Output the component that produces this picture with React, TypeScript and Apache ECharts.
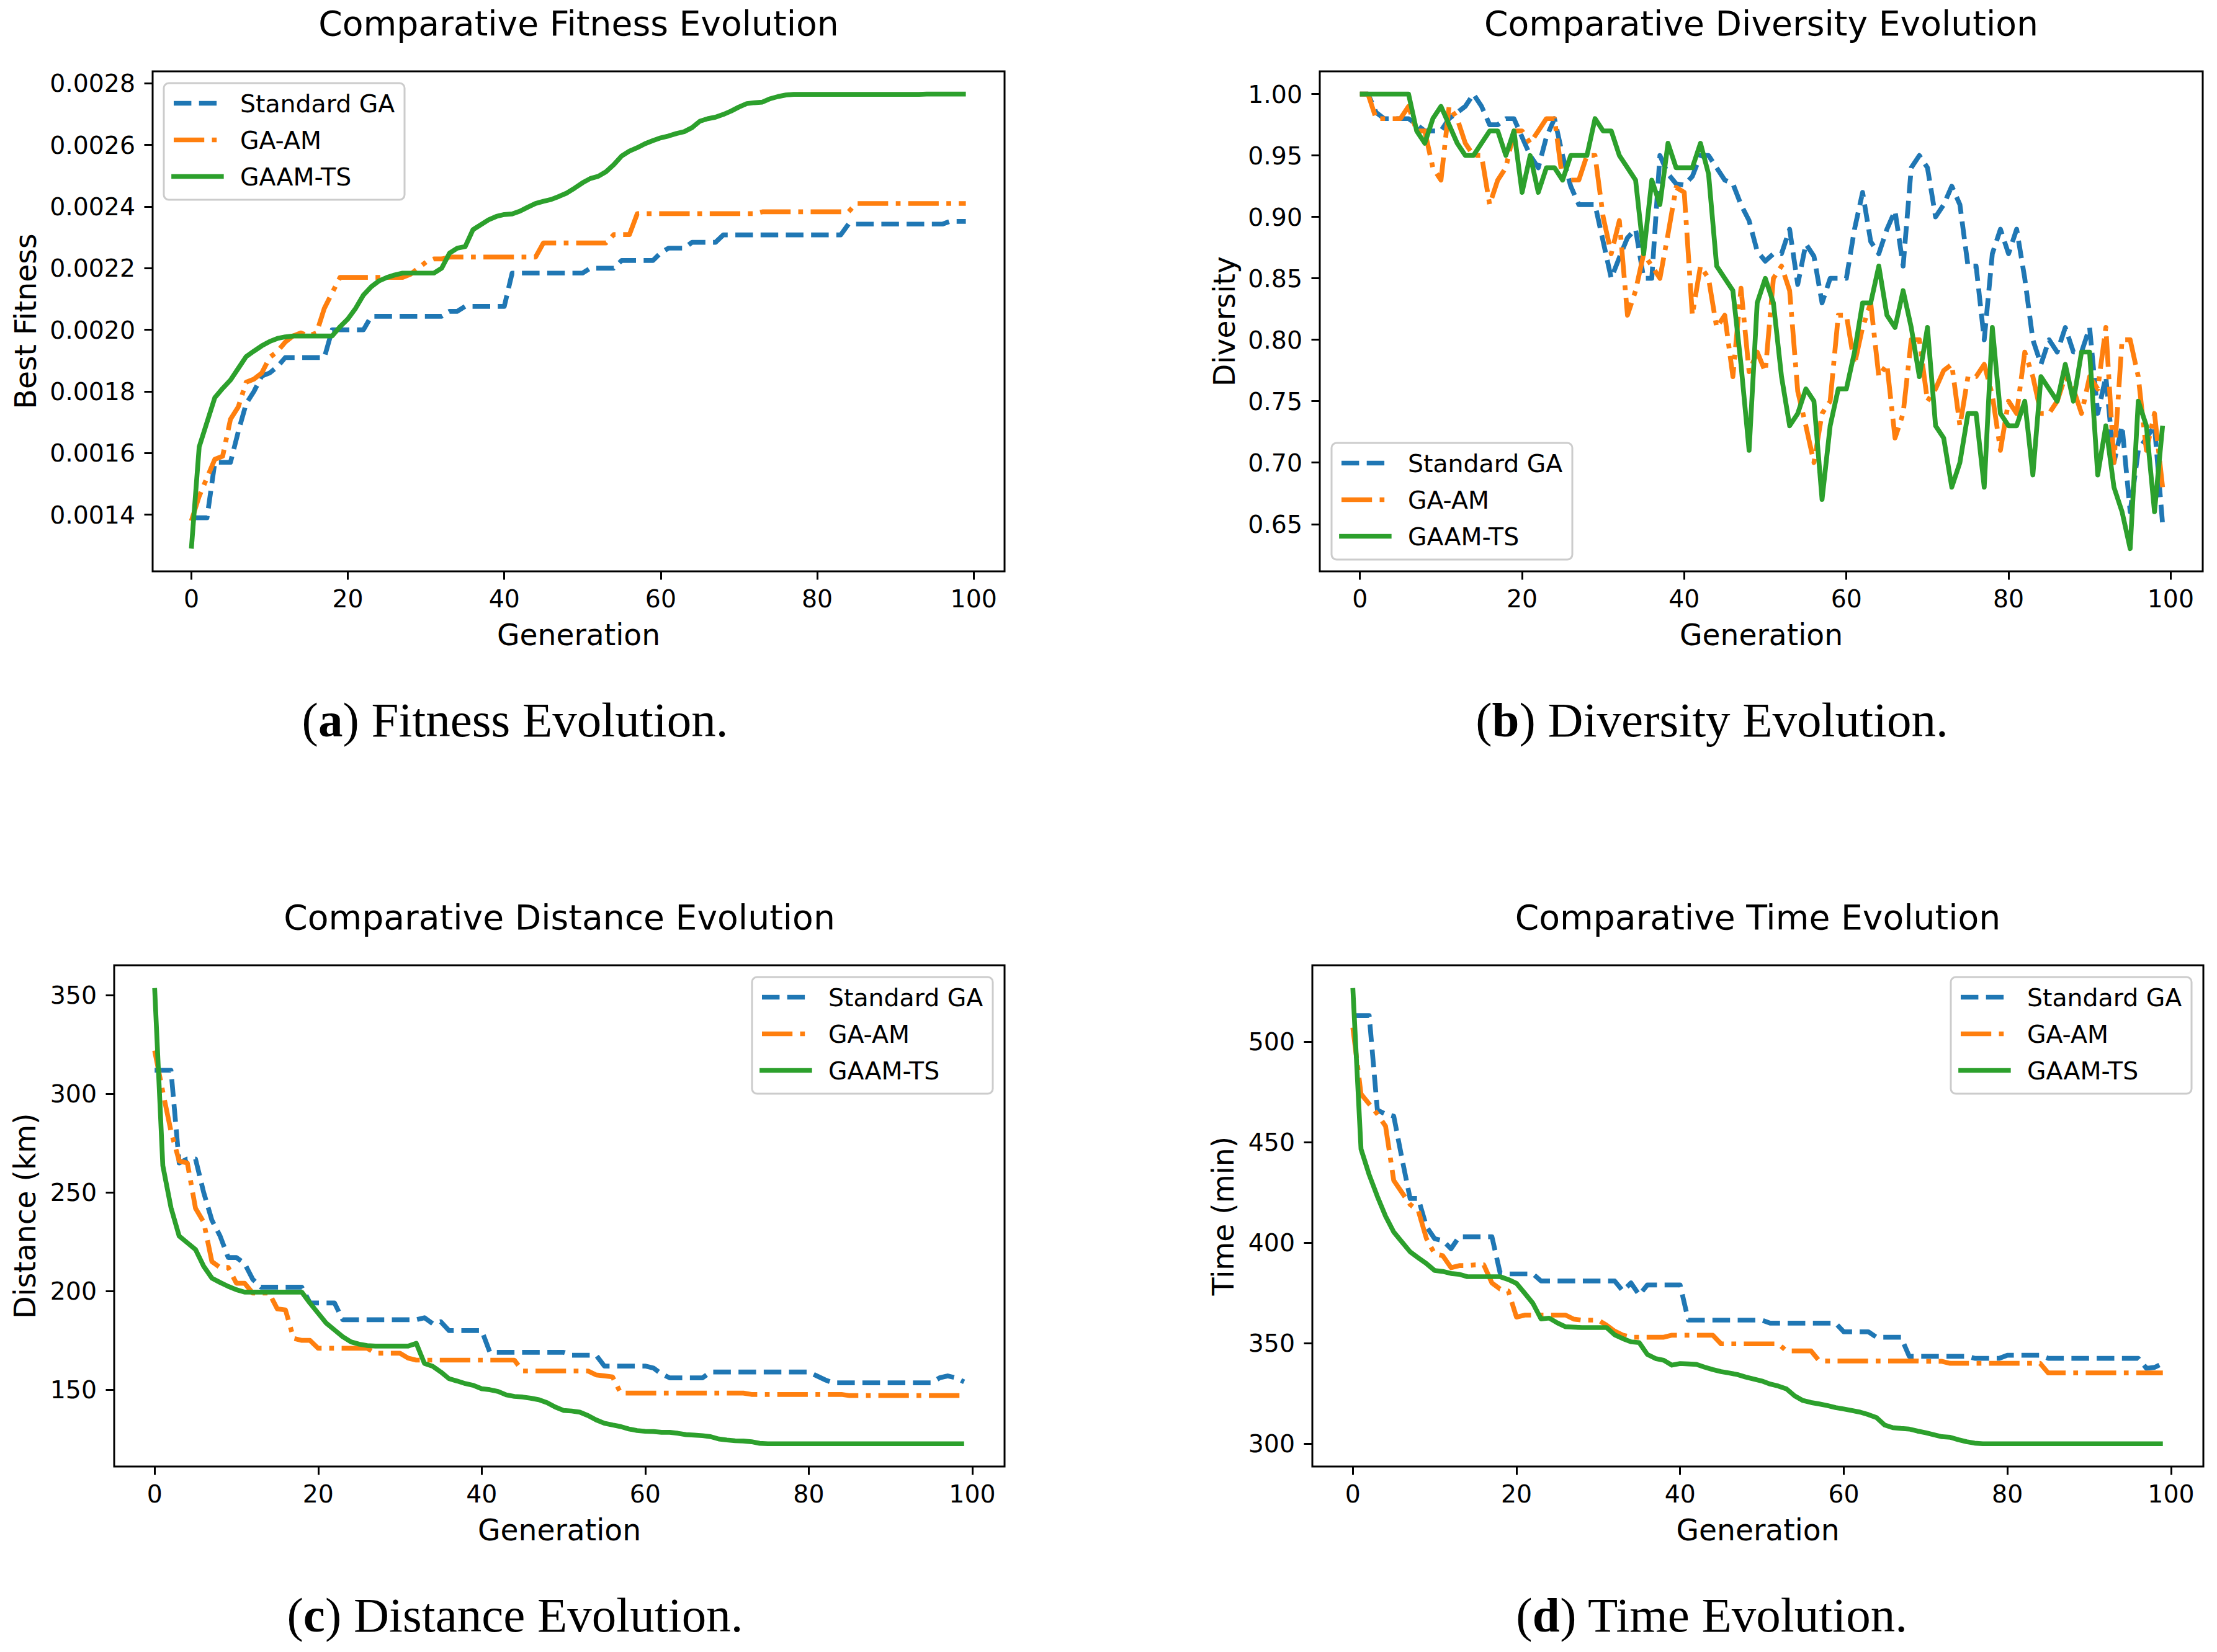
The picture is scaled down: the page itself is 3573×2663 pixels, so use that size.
import React, { useEffect, useRef } from 'react';
import * as echarts from 'echarts';

// ---------- data ----------
const seriesNames = ['Standard GA', 'GA-AM', 'GAAM-TS'];
const xTicks = [0, 20, 40, 60, 80, 100];
const fitnessTicks = [0.0014, 0.0016, 0.0018, 0.002, 0.0022, 0.0024, 0.0026, 0.0028];
const diversityTicks = [0.65, 0.7, 0.75, 0.8, 0.85, 0.9, 0.95, 1.0];
const distanceTicks = [150, 200, 250, 300, 350];
const timeTicks = [300, 350, 400, 450, 500];

const gaFitness = [
  0.00139, 0.00139, 0.00139, 0.00157, 0.00157, 0.00157, 0.00167, 0.00176, 0.0018, 0.00185,
  0.00186, 0.00188, 0.00191, 0.00191, 0.00191, 0.00191, 0.00191, 0.00191, 0.002, 0.002,
  0.002, 0.002, 0.002, 0.002044, 0.002044, 0.002044, 0.002044, 0.002044, 0.002044, 0.002044,
  0.002044, 0.002044, 0.002044, 0.00206, 0.00206, 0.002076, 0.002076, 0.002076, 0.002076, 0.002076,
  0.002076, 0.002184, 0.002184, 0.002184, 0.002184, 0.002184, 0.002184, 0.002184, 0.002184, 0.002184,
  0.002184, 0.0022, 0.0022, 0.0022, 0.0022, 0.002225, 0.002225, 0.002225, 0.002225, 0.002225,
  0.00225, 0.002265, 0.002265, 0.002265, 0.002284, 0.002284, 0.002284, 0.002284, 0.002308, 0.002308,
  0.002308, 0.002308, 0.002308, 0.002308, 0.002308, 0.002308, 0.002308, 0.002308, 0.002308, 0.002308,
  0.002308, 0.002308, 0.002308, 0.002308, 0.002343, 0.002343, 0.002343, 0.002343, 0.002343, 0.002343,
  0.002343, 0.002343, 0.002343, 0.002343, 0.002343, 0.002343, 0.002343, 0.002352, 0.002352, 0.002352,
];
const amFitness = [
  0.00138, 0.00146, 0.00152, 0.00158, 0.00159, 0.00171, 0.00175, 0.00183, 0.00184, 0.00186,
  0.00191, 0.00193, 0.00196, 0.00198, 0.00199, 0.00198, 0.00199, 0.00207, 0.00212, 0.00217,
  0.00217, 0.00217, 0.00217, 0.00217, 0.00217, 0.00217, 0.00217, 0.00217, 0.00218, 0.0022,
  0.00222, 0.00223, 0.00223, 0.002236, 0.002236, 0.002236, 0.002236, 0.002236, 0.002236, 0.002236,
  0.002236, 0.002236, 0.002236, 0.002236, 0.002236, 0.002282, 0.002282, 0.002282, 0.002282, 0.002282,
  0.002282, 0.002282, 0.002282, 0.002282, 0.002309, 0.002309, 0.002309, 0.002377, 0.002377, 0.002377,
  0.002377, 0.002377, 0.002377, 0.002377, 0.002377, 0.002377, 0.002377, 0.002377, 0.002377, 0.002377,
  0.002377, 0.002377, 0.002377, 0.002383, 0.002383, 0.002383, 0.002383, 0.002383, 0.002383, 0.002383,
  0.002383, 0.002383, 0.002383, 0.002383, 0.002383, 0.00241, 0.00241, 0.00241, 0.00241, 0.00241,
  0.00241, 0.00241, 0.00241, 0.00241, 0.00241, 0.00241, 0.00241, 0.00241, 0.00241, 0.00241,
];
const gaamFitness = [
  0.00129, 0.00162, 0.0017, 0.00178, 0.00181, 0.001837, 0.001875, 0.001913, 0.001931, 0.001948,
  0.001962, 0.001972, 0.001977, 0.00198, 0.00198, 0.00198, 0.00198, 0.00198, 0.00198, 0.00201,
  0.002035, 0.00207, 0.002113, 0.00214, 0.002159, 0.00217, 0.002178, 0.002184, 0.002184, 0.002184,
  0.002184, 0.002184, 0.0022, 0.002249, 0.002265, 0.00227, 0.002325, 0.002341, 0.002357, 0.002368,
  0.002374, 0.002376, 0.002385, 0.002398, 0.00241, 0.002417, 0.002423, 0.002433, 0.002444, 0.00246,
  0.002477, 0.002491, 0.002498, 0.002513, 0.002536, 0.002564, 0.00258, 0.002591, 0.002604, 0.002614,
  0.002623, 0.002629, 0.002637, 0.002643, 0.002656, 0.002677, 0.002685, 0.00269, 0.002699, 0.00271,
  0.002723, 0.002734, 0.002737, 0.002739, 0.00275, 0.002757, 0.002762, 0.002764, 0.002764, 0.002764,
  0.002764, 0.002764, 0.002764, 0.002764, 0.002764, 0.002764, 0.002764, 0.002764, 0.002764, 0.002764,
  0.002764, 0.002764, 0.002764, 0.002764, 0.002765, 0.002765, 0.002765, 0.002765, 0.002765, 0.002765,
];

const gaDiversity = [
  1.0, 1.0, 0.985, 0.98, 0.98, 0.98, 0.98, 0.975, 0.97, 0.97,
  0.97, 0.98, 0.985, 0.99, 1.0, 0.99, 0.975, 0.975, 0.98, 0.98,
  0.965, 0.95, 0.94, 0.965, 0.98, 0.95, 0.925, 0.91, 0.91, 0.91,
  0.88, 0.85, 0.867, 0.883, 0.89, 0.85, 0.85, 0.95, 0.935, 0.927,
  0.926, 0.933, 0.95, 0.95, 0.94, 0.93, 0.927, 0.91, 0.897, 0.872,
  0.864, 0.87, 0.87, 0.89, 0.845, 0.878, 0.868, 0.83, 0.85, 0.85,
  0.85, 0.89, 0.92, 0.88, 0.87, 0.89, 0.905, 0.86, 0.94, 0.95,
  0.94, 0.9, 0.91, 0.925, 0.91, 0.86, 0.86, 0.8, 0.87, 0.89,
  0.87, 0.89, 0.85, 0.8, 0.78, 0.8, 0.79, 0.81, 0.79, 0.79,
  0.81, 0.74, 0.77, 0.7, 0.73, 0.66, 0.71, 0.72, 0.73, 0.65,
];
const amDiversity = [
  1.0, 1.0, 0.98, 0.98, 0.98, 0.98, 0.99, 0.97, 0.97, 0.94,
  0.93, 0.99, 0.98, 0.96, 0.95, 0.95, 0.91, 0.93, 0.94, 0.97,
  0.97, 0.96, 0.97, 0.98, 0.98, 0.93, 0.93, 0.93, 0.95, 0.95,
  0.9, 0.87, 0.897, 0.82, 0.84, 0.87, 0.86, 0.85, 0.886, 0.924,
  0.92, 0.82, 0.86, 0.85, 0.81, 0.82, 0.77, 0.842, 0.774, 0.79,
  0.774, 0.85, 0.86, 0.84, 0.758, 0.73, 0.7, 0.74, 0.75, 0.82,
  0.82, 0.78, 0.81, 0.83, 0.77, 0.78, 0.72, 0.74, 0.8, 0.8,
  0.75, 0.76, 0.775, 0.78, 0.73, 0.77, 0.77, 0.78, 0.755, 0.71,
  0.75, 0.74, 0.79, 0.77, 0.74, 0.74, 0.75, 0.77, 0.76, 0.74,
  0.77, 0.76, 0.81, 0.7, 0.8, 0.8, 0.77, 0.71, 0.74, 0.68,
];
const gaamDiversity = [
  1.0, 1.0, 1.0, 1.0, 1.0, 1.0, 1.0, 0.97, 0.96, 0.98,
  0.99, 0.975, 0.96, 0.95, 0.95, 0.96, 0.97, 0.97, 0.95, 0.97,
  0.92, 0.95, 0.92, 0.94, 0.94, 0.93, 0.95, 0.95, 0.95, 0.98,
  0.97, 0.97, 0.95, 0.94, 0.93, 0.87, 0.93, 0.91, 0.96, 0.94,
  0.94, 0.94, 0.96, 0.935, 0.86, 0.85, 0.84, 0.78, 0.71, 0.83,
  0.85, 0.83, 0.77, 0.73, 0.74, 0.76, 0.75, 0.67, 0.73, 0.76,
  0.76, 0.79, 0.83, 0.83, 0.86, 0.82, 0.81, 0.84, 0.81, 0.77,
  0.81, 0.73, 0.72, 0.68, 0.7, 0.74, 0.74, 0.68, 0.81, 0.74,
  0.73, 0.73, 0.75, 0.69, 0.77, 0.76, 0.75, 0.78, 0.75, 0.79,
  0.79, 0.69, 0.73, 0.68, 0.66, 0.63, 0.75, 0.73, 0.66, 0.73,
];

const gaDistance = [
  312, 312, 312, 265, 267, 267, 250, 236, 228, 217,
  217, 214, 206, 202, 202, 202, 202, 202, 202, 194,
  194, 194, 194, 185.5, 185.5, 185.5, 185.5, 185.5, 185.5, 185.5,
  185.5, 185.5, 185.5, 186.5, 183.5, 184.5, 180, 180, 180, 180,
  180, 169, 169, 169, 169, 169, 169, 169, 169, 169,
  169, 167.5, 167.5, 167.5, 167.5, 162, 162, 162, 162, 162,
  162, 161, 158, 156, 156, 156, 156, 156, 159, 159,
  159, 159, 159, 159, 159, 159, 159, 159, 159, 159,
  159, 157, 155, 153.5, 153.5, 153.5, 153.5, 153.5, 153.5, 153.5,
  153.5, 153.5, 153.5, 153.5, 153.5, 153.5, 156, 157, 156, 154,
];
const amDistance = [
  322, 301, 281, 266, 265, 242, 235, 215, 212, 212,
  204, 204, 199, 199, 199, 191, 190.5, 176, 175, 175,
  171, 171, 171, 171, 171, 171, 171, 168.5, 168.5, 168.5,
  168.5, 166, 165, 165, 165, 165, 165, 165, 165, 165,
  165, 165, 165, 165, 165, 159.5, 159.5, 159.5, 159.5, 159.5,
  159.5, 159.5, 159.5, 159.5, 157.5, 157, 156.5, 148.3, 148.3, 148.3,
  148.3, 148.3, 148.3, 148.3, 148.3, 148.3, 148.3, 148.3, 148.3, 148.3,
  148.3, 148.3, 148.3, 147.6, 147.6, 147.6, 147.6, 147.6, 147.6, 147.6,
  147.6, 147.6, 147.6, 147.6, 147.6, 147, 147, 147, 147, 147,
  147, 147, 147, 147, 147, 147, 147, 147, 147, 147,
];
const gaamDistance = [
  353.7, 263.6, 242.3, 227.9, 224.5, 221.1, 212.6, 206.6, 204.4, 202.4,
  200.7, 199.5, 199.5, 199.5, 199.5, 199.5, 199.5, 199.5, 199.5, 193.9,
  188.8, 183.7, 180.3, 176.9, 174.3, 173.1, 172.4, 172.1, 172.1, 172.1,
  172.1, 172.1, 173.5, 163.3, 161.9, 159.0, 155.6, 154.4, 153.1, 152.2,
  150.5, 150.0, 149.1, 147.4, 146.6, 146.3, 145.7, 144.9, 143.4, 141.2,
  139.5, 139.2, 138.6, 136.9, 134.7, 133.0, 132.1, 131.3, 130.1, 129.3,
  128.9, 128.8, 128.4, 128.4, 127.9, 127.2, 127.0, 126.7, 126.2, 125.0,
  124.5, 124.1, 124.0, 123.6, 122.8, 122.6, 122.6, 122.6, 122.6, 122.6,
  122.6, 122.6, 122.6, 122.6, 122.6, 122.6, 122.6, 122.6, 122.6, 122.6,
  122.6, 122.6, 122.6, 122.6, 122.6, 122.6, 122.6, 122.6, 122.6, 122.6,
];

const gaTime = [
  513, 513, 513, 466, 464, 463, 442, 422, 422, 408,
  402, 401, 397, 403, 403, 403, 403, 403, 385, 384.5,
  384.5, 384.5, 384.5, 381, 381, 381, 381, 381, 381, 381,
  381, 381, 381, 376, 380, 374, 379, 379, 379, 379,
  379, 361.5, 361.5, 361.5, 361.5, 361.5, 361.5, 361.5, 361.5, 361.5,
  361.5, 360, 360, 360, 360, 360, 360, 360, 360, 360,
  355.7, 355.7, 355.7, 355.7, 353, 353, 353, 353, 343.5, 343.5,
  343.5, 343.5, 343.5, 343.5, 343.5, 343.5, 342.5, 342.5, 342.5, 342.5,
  344, 344, 344, 344, 344, 342.5, 342.5, 342.5, 342.5, 342.5,
  342.5, 342.5, 342.5, 342.5, 342.5, 342.5, 342.5, 337.5, 338, 340,
];
const amTime = [
  507, 474, 469, 464, 458, 431, 425, 419, 416, 402,
  394.5, 393.5, 387.6, 388.6, 388.6, 389, 389, 380, 377, 376,
  363, 364, 364, 364, 364, 364, 364, 362, 361.5, 361.5,
  361.5, 359, 356, 354, 353, 353, 353, 353, 353, 354,
  354, 354, 354, 354, 354, 349.7, 349.7, 349.7, 349.7, 349.7,
  349.7, 349.7, 349.7, 346.2, 346.2, 346.2, 346.2, 341.2, 341.2, 341.2,
  341.2, 341.2, 341.2, 341.2, 341.2, 341.2, 341.2, 341.2, 341.2, 341.2,
  341, 341, 341, 340, 340, 340, 340, 340, 340, 340,
  340, 340, 340, 340, 340, 335.2, 335.2, 335.2, 335.2, 335.2,
  335.2, 335.2, 335.2, 335.2, 335.2, 335.2, 335.2, 335.2, 335.2, 335.2,
];
const gaamTime = [
  526.7, 446.6, 433.8, 423.0, 413.2, 405.3, 400.4, 395.5, 392.5, 389.6,
  386.2, 385.7, 384.7, 384.3, 383.1, 383.1, 383.1, 383.1, 383.1, 381.7,
  379.8, 374.9, 369.9, 362.1, 362.5, 360.1, 358.2, 358.0, 357.8, 357.8,
  357.8, 357.8, 354.2, 352.3, 350.7, 350.3, 344.4, 342.4, 341.5, 339.1,
  339.9, 339.7, 339.5, 338.1, 336.9, 335.9, 335.2, 334.4, 333.2, 332.2,
  331.2, 329.7, 328.7, 327.3, 323.8, 321.5, 320.5, 319.8, 319.0, 318.0,
  317.3, 316.5, 315.7, 314.5, 313.0, 309.3, 308.0, 307.6, 307.3, 306.3,
  305.5, 304.5, 303.5, 303.2, 302.0, 301.0, 300.3, 300, 300, 300,
  300, 300, 300, 300, 300, 300, 300, 300, 300, 300,
  300, 300, 300, 300, 300, 300, 300, 300, 300, 300,
];

// ---------- styling / layout ----------
const COLORS = ['#1f77b4', '#ff7f0e', '#2ca02c'];
const DASHES: any[] = [[28.4, 12.3], [49.2, 12.3, 7.7, 12.3], 'solid'];
const LW = 7.7;
const SANS = 'DejaVu Sans';
const SERIF = 'Liberation Serif';
const TICK_FS = 39.4;
const LABEL_FS = 47.2;
const TITLE_FS = 55.2;
const LEGEND_FS = 39.4;

const panels = [
  {
    title: 'Comparative Fitness Evolution', yName: 'Best Fitness', letter: 'a', caption: ' Fitness Evolution.',
    data: [gaFitness, amFitness, gaamFitness], ticks: fitnessTicks, dec: 4,
    left: 246, top: 115, width: 1373, height: 806, legendX: 264, legendY: 134,
    yNameX: 41, titleY: 38, xNameY: 1023, capX: 830, capY: 1160,
  },
  {
    title: 'Comparative Diversity Evolution', yName: 'Diversity', letter: 'b', caption: ' Diversity Evolution.',
    data: [gaDiversity, amDiversity, gaamDiversity], ticks: diversityTicks, dec: 2,
    left: 2127, top: 115, width: 1423, height: 806, legendX: 2146, legendY: 714,
    yNameX: 1973, titleY: 38, xNameY: 1023, capX: 2759, capY: 1160,
  },
  {
    title: 'Comparative Distance Evolution', yName: 'Distance (km)', letter: 'c', caption: ' Distance Evolution.',
    data: [gaDistance, amDistance, gaamDistance], ticks: distanceTicks, dec: 0,
    left: 184, top: 1556, width: 1435, height: 808, legendX: 1212, legendY: 1575,
    yNameX: 40, titleY: 1478.5, xNameY: 2466, capX: 830, capY: 2603,
  },
  {
    title: 'Comparative Time Evolution', yName: 'Time (min)', letter: 'd', caption: ' Time Evolution.',
    data: [gaTime, amTime, gaamTime], ticks: timeTicks, dec: 0,
    left: 2115, top: 1556, width: 1436, height: 808, legendX: 3144, legendY: 1575,
    yNameX: 1971, titleY: 1478.5, xNameY: 2466, capX: 2759, capY: 2603,
  },
];

const LEG_W = 388;
const LEG_H = 188;
const LEG_ROWS = [32.5, 91.5, 150.5];

function buildOption() {
  const grid: any[] = [];
  const xAxis: any[] = [];
  const yAxis: any[] = [];
  const series: any[] = [];
  const graphic: any[] = [];

  panels.forEach((p, i) => {
    grid.push({
      left: p.left, top: p.top, width: p.width, height: p.height,
      show: true, borderColor: '#000', borderWidth: 3, backgroundColor: 'transparent',
    });
    xAxis.push({
      type: 'value', gridIndex: i, min: -4.95, max: 103.95,
      axisLine: { show: false, onZero: false },
      splitLine: { show: false },
      axisTick: { show: true, length: 13.5, lineStyle: { color: '#000', width: 3 }, customValues: xTicks },
      axisLabel: {
        show: true, customValues: xTicks, margin: 24, fontSize: TICK_FS, fontFamily: SANS, color: '#000',
        formatter: (v: number) => String(Math.round(v)),
      },
    });
    const all = ([] as number[]).concat(...p.data);
    const lo = Math.min(...all);
    const hi = Math.max(...all);
    const pad = (hi - lo) * 0.05;
    yAxis.push({
      type: 'value', gridIndex: i, min: lo - pad, max: hi + pad,
      axisLine: { show: false, onZero: false },
      splitLine: { show: false },
      axisTick: { show: true, length: 13.5, lineStyle: { color: '#000', width: 3 }, customValues: p.ticks },
      axisLabel: {
        show: true, customValues: p.ticks, margin: 28, fontSize: TICK_FS, fontFamily: SANS, color: '#000',
        formatter: (v: number) => v.toFixed(p.dec),
      },
    });
    p.data.forEach((arr, k) => {
      series.push({
        type: 'line', name: seriesNames[k], xAxisIndex: i, yAxisIndex: i,
        data: arr.map((v, g) => [g, v]),
        showSymbol: false, symbol: 'none', silent: true,
        lineStyle: { color: COLORS[k], width: LW, type: DASHES[k], cap: 'butt', join: 'round' },
        itemStyle: { color: COLORS[k] },
        z: 2 + k,
      });
    });

    const cx = p.left + p.width / 2;
    const cy = p.top + p.height / 2;
    graphic.push({
      type: 'text', x: cx, y: p.titleY, z: 50,
      style: { text: p.title, fontSize: TITLE_FS, fontFamily: SANS, fill: '#000', align: 'center', verticalAlign: 'middle' },
    });
    graphic.push({
      type: 'text', x: cx, y: p.xNameY, z: 50,
      style: { text: 'Generation', fontSize: LABEL_FS, fontFamily: SANS, fill: '#000', align: 'center', verticalAlign: 'middle' },
    });
    graphic.push({
      type: 'text', x: p.yNameX, y: cy, rotation: Math.PI / 2, z: 50,
      style: { text: p.yName, fontSize: LABEL_FS, fontFamily: SANS, fill: '#000', align: 'center', verticalAlign: 'middle' },
    });
    graphic.push({
      type: 'text', x: p.capX, y: p.capY, z: 50,
      style: {
        text: '({b|' + p.letter + '})' + p.caption,
        fontSize: 79, fontFamily: SERIF, fill: '#000', align: 'center', verticalAlign: 'middle',
        rich: { b: { fontSize: 79, fontFamily: SERIF, fontWeight: 'bold', fill: '#000' } },
      },
    });
    // legend
    graphic.push({
      type: 'rect', z: 60,
      shape: { x: p.legendX, y: p.legendY, width: LEG_W, height: LEG_H, r: 8 },
      style: { fill: 'rgba(255,255,255,0.8)', stroke: '#cccccc', lineWidth: 3 },
    });
    seriesNames.forEach((name, k) => {
      const ry = p.legendY + LEG_ROWS[k];
      graphic.push({
        type: 'line', z: 61,
        shape: { x1: p.legendX + 16, y1: ry, x2: p.legendX + 16 + 76.8, y2: ry },
        style: {
          stroke: COLORS[k], lineWidth: LW,
          lineDash: k === 2 ? null : DASHES[k], lineCap: k === 2 ? 'square' : 'butt',
        },
      });
      graphic.push({
        type: 'text', x: p.legendX + 123, y: ry, z: 61,
        style: { text: name, fontSize: LEGEND_FS, fontFamily: SANS, fill: '#000', align: 'left', verticalAlign: 'middle' },
      });
    });
  });

  return {
    animation: false,
    backgroundColor: '#ffffff',
    textStyle: { fontFamily: SANS },
    grid, xAxis, yAxis, series,
    graphic: { elements: graphic },
  };
}

export default function App() {
  const ref = useRef<HTMLDivElement>(null);
  useEffect(() => {
    const chart = echarts.init(ref.current as HTMLDivElement, null, { renderer: 'svg', width: 3573, height: 2663 });
    chart.setOption(buildOption() as any);
    return () => chart.dispose();
  }, []);
  return (
    <div
      ref={ref}
      style={{ position: 'fixed', left: 0, top: 0, width: 3573, height: 2663, background: '#ffffff' }}
    />
  );
}
